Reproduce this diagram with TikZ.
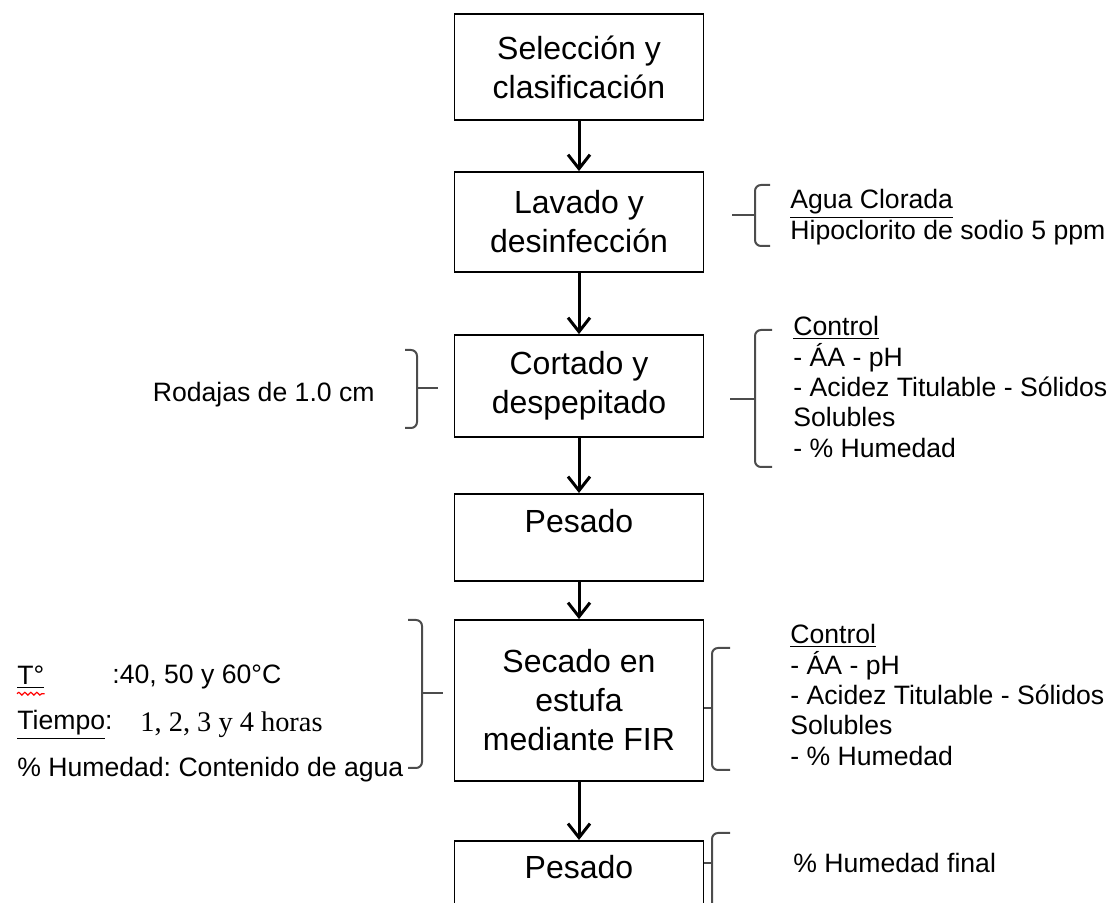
\documentclass[tikz,border=0pt]{standalone}
\usepackage{fontspec}
\setmainfont{Liberation Sans}
\newfontfamily\serifa{Liberation Serif}
\usetikzlibrary{arrows.meta,decorations.pathmorphing}
\tikzset{>={Straight Barb[length=7pt,width=11pt]}}
\frenchspacing
\newcommand\fcaja{\fontsize{16}{19.5}\selectfont}
\newcommand\flado{\fontsize{13.3}{15.2}\selectfont}
\tikzset{
  paso/.style={draw, line width=0.9pt, minimum width=124.5pt, inner sep=0pt, align=center, font=\fcaja},
  flecha/.style={->, line width=1.5pt},
  llave/.style={draw=black!70, line width=1pt, rounded corners=3pt},
  nota/.style={font=\flado, align=left, inner sep=0pt, anchor=west},
}

\begin{document}
\begin{tikzpicture}[x=0.5pt,y=-0.5pt]
\useasboundingbox (0,0) rectangle (1116,903);

% pasos del proceso
\node[paso, minimum height=53pt] (sel) at (579,67) {Selección y\\clasificación};
\node[paso, minimum height=50pt] (lav) at (579,222) {Lavado y\\desinfección};
\node[paso, minimum height=51pt] (cor) at (579,386) {Cortado y\\despepitado};
\node[paso, anchor=north, text height=19.25pt, text depth=24.25pt] (pes1) at (579,493) {Pesado};
\node[paso, minimum height=80.5pt] (sec) at (579,700.5) {Secado en\\estufa\\mediante FIR};
\node[paso, anchor=north, text height=18.75pt, text depth=31pt] (pes2) at (579,840) {Pesado};

\draw[flecha] (sel) -- (lav);
\draw[flecha] (lav) -- (cor);
\draw[flecha] (cor) -- (pes1);
\draw[flecha] (pes1) -- (sec);
\draw[flecha] (sec) -- (pes2);

% lavado: agua clorada
\draw[llave] (770,185) -- (755,185) -- (755,246) -- (770,246);
\draw[llave] (732,215) -- (755,215);
\node[nota] (agua) at (790,217) {\underline{Agua Clorada}\\Hipoclorito de sodio 5 ppm};

% cortado: rodajas y control
\draw[llave] (405,350) -- (417,350) -- (417,428) -- (405,428);
\draw[llave] (417,388) -- (438,388);
\node[nota, anchor=east] (rod) at (375,395) {Rodajas de 1.0 cm};
\draw[llave] (772,330) -- (755,330) -- (755,467) -- (772,467);
\draw[llave] (730,399) -- (755,399);
\node[nota] (ctrl1) at (793,387) {\underline{Control}\\- ÁA - pH\\- Acidez Titulable - Sólidos\\Solubles\\- \% Humedad};

% secado: condiciones y control
\draw[llave] (408,620) -- (422,620) -- (422,768) -- (408,768);
\draw[llave] (422,693) -- (443,693);
\node[nota] (temp) at (17,677) {\underline{T°}};
\draw[red, line width=0.6pt, decorate, decoration={snake, amplitude=0.7pt, segment length=3pt}]
  ([yshift=-2.5pt]temp.south west) -- ([yshift=-2.5pt]temp.south east);
\node[nota] (tval) at (112,677) {:40, 50 y 60°C};
\node[nota] (tiempo) at (17,725) {\underline{Tiempo}:};
\node[nota, font=\serifa\fontsize{14.2}{16}\selectfont] (tiempoval) at (140,725) {1, 2, 3 y 4 horas};
\node[nota] (hum) at (17,770) {\% Humedad: Contenido de agua};
\draw[llave] (730,648) -- (712,648) -- (712,770) -- (730,770);
\draw[llave] (sec.east |- 0,708) -- (712,708);
\node[nota] (ctrl2) at (790,695) {\underline{Control}\\- ÁA - pH\\- Acidez Titulable - Sólidos\\Solubles\\- \% Humedad};

% pesado final
\draw[llave] (730,833) -- (712,833) -- (712,940);
\draw[llave] (pes2.east |- 0,863) -- (712,863);
\node[nota] (humf) at (793,863) {\% Humedad final};
\end{tikzpicture}
\end{document}
